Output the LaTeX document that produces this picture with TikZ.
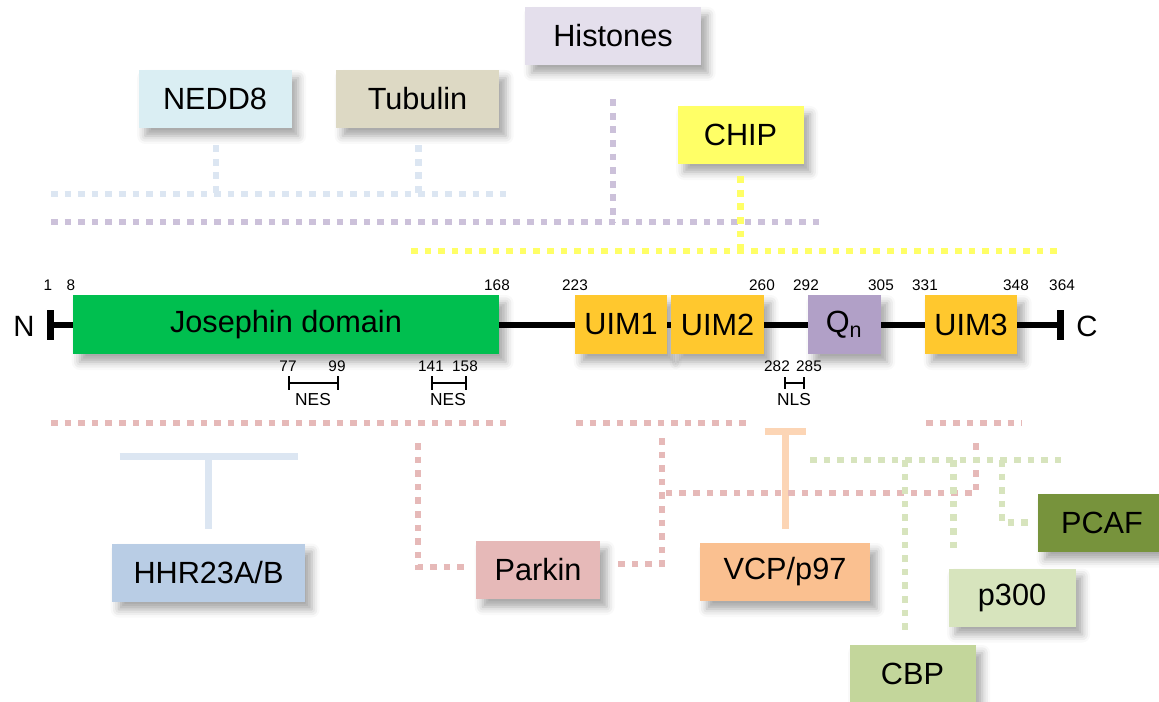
\documentclass[tikz,border=0pt]{standalone}
\usepackage{fontspec}
\setmainfont{Liberation Sans}
\usetikzlibrary{calc,shadows.blur}

% box fills
\definecolor{josephinC}{HTML}{00BF4F}
\definecolor{uimC}{HTML}{FFC82E}
\definecolor{qnC}{HTML}{B1A0C7}
\definecolor{histC}{HTML}{E4DFEC}
\definecolor{neddC}{HTML}{DAEEF3}
\definecolor{tubC}{HTML}{DDD9C4}
\definecolor{chipC}{HTML}{FFFF66}
\definecolor{hhrC}{HTML}{B9CDE5}
\definecolor{parkinC}{HTML}{E6B9B8}
\definecolor{vcpC}{HTML}{FAC090}
\definecolor{pthreeC}{HTML}{D7E4BD}
\definecolor{cbpC}{HTML}{C3D69B}
\definecolor{pcafC}{HTML}{77933C}
% connector colours
\definecolor{blueLn}{HTML}{DCE6F2}
\definecolor{purpleLn}{HTML}{CCC1DA}
\definecolor{yellowLn}{HTML}{FFFF66}
\definecolor{pinkLn}{HTML}{E6B9B8}
\definecolor{greenLn}{HTML}{D7E4BD}
\definecolor{orangeLn}{HTML}{FCD5B5}

\tikzset{
  softshadow/.style={blur shadow={shadow xshift=5pt, shadow yshift=-6pt,
      shadow blur radius=6pt, shadow opacity=35}},
  partner/.style={rectangle, inner sep=0pt, minimum height=58*0.75pt,
      font=\fontsize{23}{26}\selectfont, softshadow},
  domainbox/.style={rectangle, inner sep=0pt, minimum height=59*0.75pt,
      font=\fontsize{23}{26}\selectfont, softshadow},
  resnum/.style={font=\fontsize{11.5}{13}\selectfont, inner sep=0pt},
  signal/.style={font=\fontsize{13}{15}\selectfont, inner sep=0pt},
  endlabel/.style={font=\fontsize{22}{24}\selectfont, inner sep=0pt},
  dotline/.style={line width=5pt, dash pattern=on 5pt off 5.2pt},
  tbar/.style={line width=5.25pt},
  bracket/.style={line width=1.2pt},
}

\begin{document}
\begin{tikzpicture}[x=0.75pt,y=-0.75pt]
\useasboundingbox (0,0) rectangle (1159,702);

% ---------- protein backbone ----------
\coordinate (nEnd) at (50,325);
\coordinate (cEnd) at (1060,325);
\draw[line width=4.1pt] (nEnd) -- (cEnd);
\draw[line width=5.25pt] ($(nEnd)+(0,-15)$) -- ($(nEnd)+(0,15)$);
\draw[line width=5.25pt] ($(cEnd)+(0,-15)$) -- ($(cEnd)+(0,15)$);
\node[endlabel] (nlab) at (24,326) {N};
\node[endlabel] (clab) at (1087,326) {C};

% ---------- domains ----------
\node[domainbox, fill=josephinC, minimum width=426*0.75pt] (joseph) at (286,324.5) {Josephin domain};
\node[domainbox, fill=uimC, minimum width=92*0.75pt] (uim1) at (621,324.5) {UIM1};
\node[domainbox, fill=uimC, minimum width=93*0.75pt] (uim2) at (717.5,324.5) {UIM2};
\node[domainbox, fill=qnC, minimum width=73*0.75pt] (qn) at (844,324.5) {Q\textsubscript{n}};
\node[domainbox, fill=uimC, minimum width=92*0.75pt] (uim3) at (971,324.5) {UIM3};

% residue numbers
\foreach \xx/\lab in {48/1, 71/8, 497/168, 575/223, 762/260, 806/292, 881/305, 925/331, 1016/348, 1062/364}
  \node[resnum] at (\xx,285) {\lab};

% ---------- NES / NLS signals ----------
\draw[bracket] (289,376) -- (289,390) (289,383) -- (338,383) (338,376) -- (338,390);
\node[resnum] at (288,366) {77};
\node[resnum] at (337,366) {99};
\node[signal] at (313,400) {NES};
\draw[bracket] (432,376) -- (432,390) (432,383) -- (466,383) (466,376) -- (466,390);
\node[resnum] at (431,366) {141};
\node[resnum] at (465,366) {158};
\node[signal] at (448,400) {NES};
\draw[bracket] (785,377) -- (785,389) (785,383) -- (804,383) (804,377) -- (804,389);
\node[resnum] at (777,366) {282};
\node[resnum] at (809,366) {285};
\node[signal] at (794,400) {NLS};

% ---------- upper partners ----------
\node[partner, fill=histC, minimum width=176*0.75pt] (hist) at (613,36) {Histones};
\node[partner, fill=neddC, minimum width=153*0.75pt] (nedd) at (215,99) {NEDD8};
\node[partner, fill=tubC, minimum width=163*0.75pt] (tub) at (417.5,99) {Tubulin};
\node[partner, fill=chipC, minimum width=126*0.75pt] (chip) at (740.5,135) {CHIP};

% NEDD8 and Tubulin
\coordinate (blueL) at (51,194);
\coordinate (blueR) at (510,194);
\draw[dotline, blueLn] (blueL) -- (blueR);
\draw[dotline, blueLn] ($(nedd.south)+(1,17)$) -- ($(nedd.south |- blueL)+(1,0)$);
\draw[dotline, blueLn] ($(tub.south)+(1,17)$) -- ($(tub.south |- blueL)+(1,0)$);

% Histones
\coordinate (purpL) at (51,222);
\coordinate (purpR) at (820,222);
\draw[dotline, purpleLn] (purpL) -- (purpR);
\draw[dotline, purpleLn] ($(hist.south)+(0,34)$) -- (hist.south |- purpL);

% CHIP
\coordinate (yelL) at (411,251);
\coordinate (yelR) at (1061,251);
\draw[dotline, yellowLn] (yelL) -- (yelR);
\draw[dotline, yellowLn] ($(chip.south)+(0,12)$) -- (chip.south |- yelL);

% ---------- lower partners ----------
\node[partner, fill=hhrC, minimum width=193*0.75pt] (hhr) at (208.5,572.5) {HHR23A/B};
\node[partner, fill=parkinC, minimum width=124*0.75pt] (parkin) at (538,570) {Parkin};
\node[partner, fill=vcpC, minimum width=170*0.75pt] (vcp) at (785,572) {VCP/p97};
\node[partner, fill=pcafC, minimum width=128*0.75pt] (pcaf) at (1102,522.5) {PCAF};
\node[partner, fill=pthreeC, minimum width=127*0.75pt] (ptho) at (1012,597.5) {p300};
\node[partner, fill=cbpC, minimum width=126*0.75pt] (cbp) at (912.5,674) {CBP};

% HHR23A/B
\coordinate (hhrL) at (119.5,456);
\coordinate (hhrR) at (297.5,456);
\coordinate (hhrMid) at ($(hhrL)!0.5!(hhrR)$);
\draw[tbar, blueLn] (hhrL) -- (hhrR);
\draw[tbar, blueLn] (hhrMid) -- ($(hhrMid |- hhr.north)+(0,-14)$);

% VCP/p97
\coordinate (vcpL) at (764.5,431);
\coordinate (vcpR) at (805.5,431);
\coordinate (vcpMid) at ($(vcpL)!0.5!(vcpR)$);
\draw[tbar, orangeLn] (vcpL) -- (vcpR);
\draw[tbar, orangeLn] (vcpMid) -- ($(vcpMid |- vcp.north)+(0,-14)$);

% Parkin
\coordinate (pkA1) at (51,423);
\coordinate (pkA2) at (510,423);
\coordinate (pkB1) at (576,423);
\coordinate (pkB2) at (750,423);
\coordinate (pkC1) at (926,423);
\coordinate (pkC2) at (1022,423);
\draw[dotline, pinkLn] (pkA1) -- (pkA2);
\draw[dotline, pinkLn] (pkB1) -- (pkB2);
\draw[dotline, pinkLn] (pkC1) -- (pkC2);
\coordinate (pkLeft) at (418,443);
\coordinate (pkMid) at (662,438);
\coordinate (pkJoin) at (662,493);
\coordinate (pkRight) at (976,443);
\draw[dotline, pinkLn] (pkLeft) |- ($(parkin.west)+(-9,-3)$);
\draw[dotline, pinkLn] (pkMid) |- ($(parkin.east)+(16,-6)$);
\draw[dotline, pinkLn] (pkRight) |- (pkJoin);

% CBP, p300, PCAF
\coordinate (grnL) at (810,460);
\coordinate (grnR) at (1067,460);
\draw[dotline, greenLn] (grnL) -- (grnR);
\coordinate (cbpEnd) at ($(cbp.north)+(-7.5,-15)$);
\coordinate (pthEnd) at ($(ptho.north west)+(5,-15)$);
\coordinate (pcafTop) at (1002,460);
\draw[dotline, greenLn] (cbpEnd |- grnL) -- (cbpEnd);
\draw[dotline, greenLn] (pthEnd |- grnL) -- (pthEnd);
\draw[dotline, greenLn] (pcafTop) |- ($(pcaf.west)+(-8,0)$);
\end{tikzpicture}
\end{document}
